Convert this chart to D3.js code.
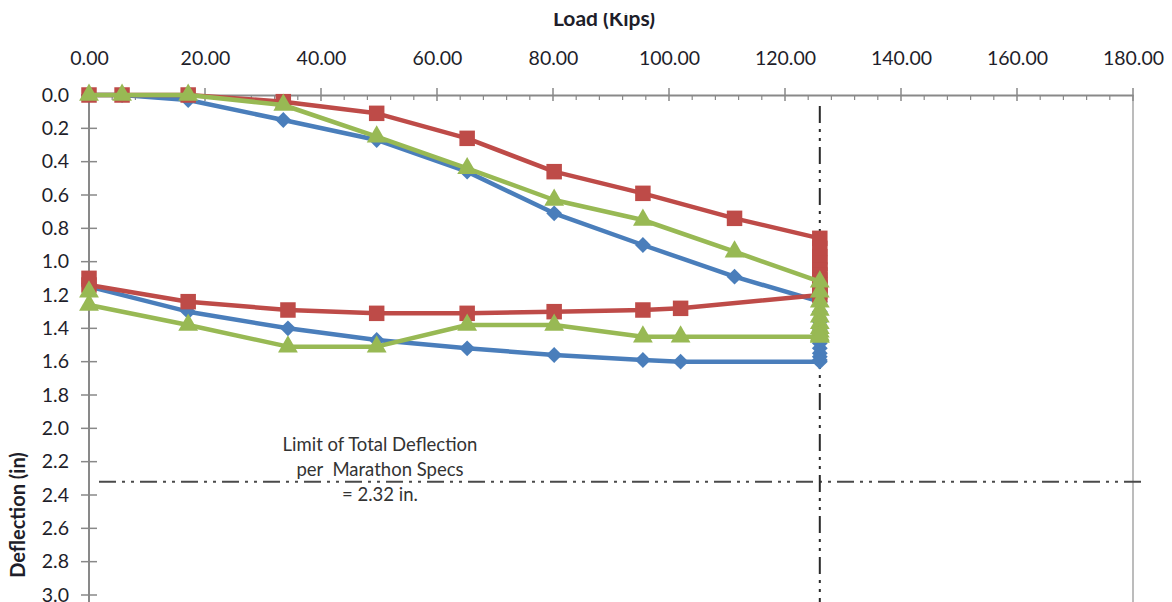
<!DOCTYPE html>
<html>
<head>
<meta charset="utf-8">
<script src="https://cdn.jsdelivr.net/npm/d3@7"></script>
<style>
  html, body { margin: 0; padding: 0; background: #fff; }
  svg { display: block; }
  text { font-family: Lato, "Open Sans", sans-serif; }
  .note { white-space: pre; }
</style>
</head>
<body>
<svg id="chart" width="1172" height="602"></svg>
<script>
// ---- data ----
const loadTicks = [0, 20, 40, 60, 80, 100, 120, 140, 160, 180];
const deflTicks = [0, 0.2, 0.4, 0.6, 0.8, 1.0, 1.2, 1.4, 1.6, 1.8, 2.0, 2.2, 2.4, 2.6, 2.8, 3.0];

// load for each reading: loading steps, hold at test load, unloading steps
const loads = [0, 5.7, 17.1, 33.5, 49.6, 65.2, 80.2, 95.5, 111.3, 126.0,
               126.0, 126.0, 126.0, 126.0, 126.0, 126.0, 126.0, 126.0, 126.0, 126.0,
               102.0, 95.5, 80.2, 65.2, 49.6, 34.3, 17.1, 0, 0];

const deflBlue  = [0, 0, 0.03, 0.15, 0.27, 0.46, 0.71, 0.90, 1.09, 1.24,
                   1.30, 1.36, 1.41, 1.45, 1.49, 1.52, 1.55, 1.57, 1.59, 1.60,
                   1.60, 1.59, 1.56, 1.52, 1.47, 1.40, 1.30, 1.15, 1.13];
const deflRed   = [0, 0, 0, 0.04, 0.11, 0.26, 0.46, 0.59, 0.74, 0.86,
                   0.92, 0.97, 1.01, 1.05, 1.08, 1.11, 1.14, 1.16, 1.18, 1.20,
                   1.28, 1.29, 1.30, 1.31, 1.31, 1.29, 1.24, 1.14, 1.10];
const deflGreen = [0, 0, 0, 0.06, 0.25, 0.44, 0.63, 0.75, 0.94, 1.12,
                   1.18, 1.24, 1.29, 1.33, 1.37, 1.40, 1.42, 1.44, 1.45, 1.45,
                   1.45, 1.45, 1.38, 1.38, 1.51, 1.51, 1.38, 1.26, 1.18];

const testLoad = 126.0;
const deflLimit = 2.32;
const noteLines = ["Limit of Total Deflection", "per  Marathon Specs", "= 2.32 in."];

// ---- layout ----
const svg = d3.select("#chart");
const x = d3.scaleLinear().domain([0, 180]).range([89, 1133]);
const y = d3.scaleLinear().domain([0, 3]).range([95, 595]);
const bottom = 602;
const axisColor = "#898989";
const textColor = "#1e1e2a";

// plot frame (left axis, top axis, right border)
svg.append("line").attr("x1", x(0)).attr("x2", x(0)).attr("y1", y(0)).attr("y2", bottom)
  .attr("stroke", axisColor).attr("stroke-width", 2);
svg.append("line").attr("x1", x(180)).attr("x2", x(180)).attr("y1", y(0)).attr("y2", bottom)
  .attr("stroke", "#a6a6a6").attr("stroke-width", 1.5);

// top axis
const xAxis = d3.axisTop(x).tickValues(loadTicks).tickFormat(d3.format(".2f")).tickSize(0).tickPadding(0);
const gx = svg.append("g").attr("transform", `translate(0,${y(0)})`).call(xAxis);
gx.select(".domain").attr("stroke", axisColor).attr("stroke-width", 2);
gx.selectAll(".tick text").attr("font-size", 19.5).attr("fill", textColor)
  .attr("font-family", "Lato, sans-serif").attr("dy", 0).attr("y", -30);
// major ticks crossing
svg.append("g").selectAll("line").data(loadTicks).join("line")
  .attr("x1", d => x(d)).attr("x2", d => x(d)).attr("y1", y(0) - 7).attr("y2", y(0) + 6)
  .attr("stroke", axisColor).attr("stroke-width", 1.5);
// minor ticks every 4 kips
const minor = d3.range(0, 180.1, 4).filter(d => d % 20 !== 0);
svg.append("g").selectAll("line").data(minor).join("line")
  .attr("x1", d => x(d)).attr("x2", d => x(d)).attr("y1", y(0)).attr("y2", y(0) + 5)
  .attr("stroke", axisColor).attr("stroke-width", 1.2);

// left axis
const yAxis = d3.axisLeft(y).tickValues(deflTicks).tickFormat(d3.format(".1f")).tickSize(0).tickPadding(0);
const gy = svg.append("g").attr("transform", `translate(${x(0)},0)`).call(yAxis);
gy.select(".domain").remove();
gy.selectAll(".tick text").attr("font-size", 19.5).attr("fill", textColor)
  .attr("font-family", "Lato, sans-serif").attr("x", -20);
svg.append("g").selectAll("line").data(deflTicks).join("line")
  .attr("x1", x(0) - 8).attr("x2", x(0) + 8).attr("y1", d => y(d)).attr("y2", d => y(d))
  .attr("stroke", axisColor).attr("stroke-width", 1.5);

// axis titles
svg.append("clipPath").attr("id", "topclip").append("rect")
  .attr("x", 0).attr("y", 13).attr("width", 1172).attr("height", 40);
svg.append("text").attr("clip-path", "url(#topclip)")
  .attr("x", 604).attr("y", 25.5).attr("text-anchor", "middle")
  .attr("font-size", 21).attr("font-weight", "bold").attr("fill", textColor)
  .text("Load (Kips)");
svg.append("text")
  .attr("transform", "translate(25,515) rotate(-90)").attr("text-anchor", "middle")
  .attr("font-size", 20).attr("font-weight", "bold").attr("fill", textColor)
  .text("Deflection (in)");

// reference lines
const dashPat = "17,6,3,6,3,6";
svg.append("line").attr("x1", x(0) + 10).attr("x2", 1142).attr("y1", y(deflLimit)).attr("y2", y(deflLimit))
  .attr("stroke", "#4a4a4a").attr("stroke-width", 2).attr("stroke-dasharray", dashPat);
svg.append("line").attr("x1", x(testLoad)).attr("x2", x(testLoad)).attr("y1", 106).attr("y2", bottom)
  .attr("stroke", "#2a2a2a").attr("stroke-width", 2).attr("stroke-dasharray", dashPat);

// annotation
svg.append("g").selectAll("text").data(noteLines).join("text")
  .attr("class", "note")
  .attr("x", 380).attr("y", (d, i) => 451 + i * 25).attr("text-anchor", "middle")
  .attr("font-size", 18.5).attr("fill", "#333")
  .text(d => d);

// series
const series = [
  { name: "blue", vals: deflBlue, color: "#4a7ebb", sym: d3.symbolDiamond2, size: 160 },
  { name: "red", vals: deflRed, color: "#be4b48", sym: d3.symbolSquare, size: 240 },
  { name: "green", vals: deflGreen, color: "#98b954", sym: d3.symbolTriangle, size: 170 }
];
const line = d3.line().x(d => x(d[0])).y(d => y(d[1]));
series.forEach(s => {
  const pts = loads.map((l, i) => [l, s.vals[i]]);
  const g = svg.append("g");
  g.append("path").attr("d", line(pts)).attr("fill", "none")
    .attr("stroke", s.color).attr("stroke-width", 4.5).attr("stroke-linejoin", "round");
  g.selectAll("path.m").data(pts).join("path").attr("class", "m")
    .attr("transform", d => `translate(${x(d[0])},${y(d[1])})`)
    .attr("d", d3.symbol().type(s.sym).size(s.size))
    .attr("fill", s.color);
});
</script>
</body>
</html>
